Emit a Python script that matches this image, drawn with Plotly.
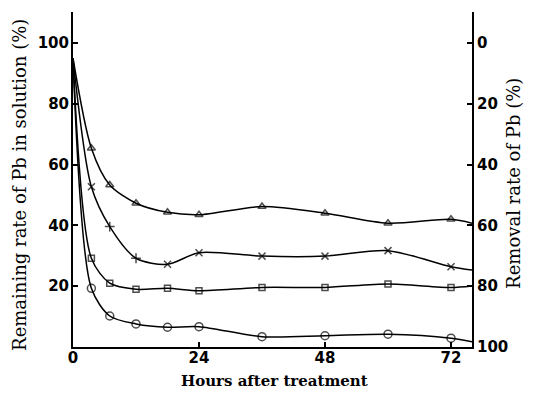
import plotly.graph_objects as go

# Data
hours = [0, 3.5, 7, 12, 18, 24, 36, 48, 60, 72, 76]
series_triangle = [95, 65.4, 53.3, 47.3, 44.3, 43.5, 46.2, 44.0, 40.7, 42.0, 40.7]
series_cross = [95, 52.7, 39.6, 29.2, 27.2, 31.0, 29.9, 29.9, 31.7, 26.4, 25.3]
series_square = [95, 29.2, 21.0, 19.0, 19.3, 18.5, 19.6, 19.6, 20.7, 19.6, 20.1]
series_circle = [95, 19.3, 10.2, 7.6, 6.5, 6.7, 3.4, 3.7, 4.2, 2.9, 1.7]

x_ticks = [0, 24, 48, 72]
left_ticks = [20, 40, 60, 80, 100]
right_ticks = [0, 20, 40, 60, 80, 100]

n = len(hours)
def sizes(s):
    return [0] + [s] * (n - 2) + [0]

fig = go.Figure()
specs = [
    (series_triangle, ["triangle-up-open"] * n, 7),
    (series_cross, ["x-thin"] * 2 + ["cross-thin"] * 2 + ["x-thin"] * (n - 4), 7),
    (series_square, ["square-open"] * n, 6),
    (series_circle, ["circle-open"] * n, 8),
]
for vals, syms, s in specs:
    fig.add_trace(go.Scatter(
        x=hours, y=vals, mode="lines+markers",
        line=dict(color="black", width=1.5, shape="spline", smoothing=0.8),
        marker=dict(symbol=syms, size=sizes(s), color="black",
                    line=dict(color="black", width=1.5)),
        showlegend=False, hoverinfo="skip",
    ))

# removal rate (complement) on the right axis, invisible
fig.add_trace(go.Scatter(
    x=hours, y=[100 - v for v in series_circle], yaxis="y2",
    mode="lines", opacity=0, showlegend=False, hoverinfo="skip",
))

tickfont = dict(family="DejaVu Sans", size=15, color="black", weight="bold")
titlefont = dict(family="DejaVu Serif", size=18, color="black")

axis_common = dict(
    ticks="inside", ticklen=5, tickcolor="black", tickwidth=1.5,
    showline=True, linecolor="black", linewidth=2, showgrid=False,
    zeroline=False, tickfont=tickfont,
)

# page body has an 8px margin, so the figure is sized/placed to compensate
fig.update_layout(
    width=526, height=389,
    margin=dict(l=65, r=62, t=4, b=50),
    paper_bgcolor="white", plot_bgcolor="white",
    xaxis=dict(range=[0, 76], tickvals=x_ticks, ticklabelstandoff=-4,
               **axis_common),
    yaxis=dict(range=[0, 110.2], tickvals=left_ticks, ticklabelstandoff=-1,
               **axis_common),
    yaxis2=dict(overlaying="y", side="right", anchor="x",
                range=[100, -10.2], tickvals=right_ticks, **axis_common),
    annotations=[
        dict(text="<b>Hours after treatment</b>", xref="paper", yref="paper",
             x=0.506, y=-0.1015, xanchor="center", yanchor="middle",
             showarrow=False,
             font=dict(family="DejaVu Serif", size=15, color="black")),
        dict(text="Remaining rate of Pb in solution (%)", xref="paper",
             yref="paper", x=-0.133, y=0.4836, xanchor="center",
             yanchor="middle", textangle=-90, showarrow=False, font=titlefont),
        dict(text="Removal rate of Pb (%)", xref="paper", yref="paper",
             x=1.105, y=0.4896, xanchor="center", yanchor="middle",
             textangle=-90, showarrow=False, font=titlefont),
    ],
)

fig.write_html("out.html")
